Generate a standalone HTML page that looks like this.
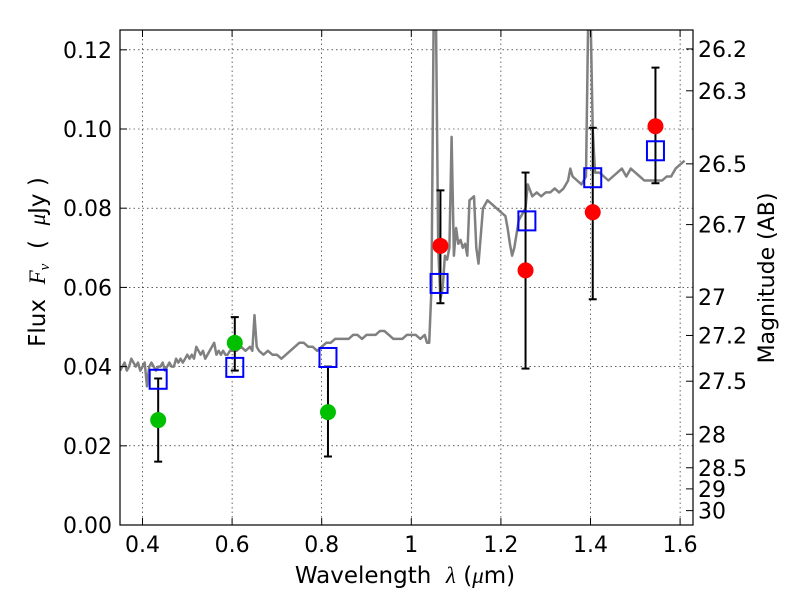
<!DOCTYPE html>
<html><head><meta charset="utf-8"><style>
body{margin:0;background:#fff}
svg text{font-family:"DejaVu Sans","Liberation Sans",sans-serif;fill:#000}
</style></head><body>
<svg id="chart" width="800" height="600" viewBox="0 0 800 600">
<defs><clipPath id="pc"><rect x="120" y="30" width="573" height="495"/></clipPath></defs>
<rect x="0" y="0" width="800" height="600" fill="#fff"/>
<g id="grid"></g>
<g id="spec" clip-path="url(#pc)"></g>
<g id="marks"></g>
<rect x="120" y="30" width="573" height="495" fill="none" stroke="#000" stroke-width="1.2"/>
<g id="axes"></g>
<text x="405" y="583" font-size="23" text-anchor="middle" xml:space="preserve">Wavelength  <tspan font-family="Liberation Serif" font-style="italic">λ</tspan> (<tspan font-family="Liberation Serif" font-style="italic">μ</tspan>m)</text>
<text transform="translate(45,262) rotate(-90)" font-size="23" text-anchor="middle" xml:space="preserve">Flux  <tspan font-family="Liberation Serif" font-style="italic">F</tspan><tspan font-family="Liberation Serif" font-style="italic" font-size="15" dy="4">ν</tspan><tspan dy="-4">  (  </tspan><tspan font-family="Liberation Serif" font-style="italic">μ</tspan>Jy )</text>
<text transform="translate(774,278) rotate(-90)" font-size="22" text-anchor="middle">Magnitude (AB)</text>
</svg>
<script>
const xTicks=[0.4,0.6,0.8,1.0,1.2,1.4,1.6];
const xTickLabels=["0.4","0.6","0.8","1","1.2","1.4","1.6"];
const yTicks=[0,0.02,0.04,0.06,0.08,0.10,0.12];
const yTickLabels=["0.00","0.02","0.04","0.06","0.08","0.10","0.12"];
const magTicks=[26.2,26.3,26.5,26.7,27,27.2,27.5,28,28.5,29,30];
const magTickLabels=["26.2","26.3","26.5","26.7","27","27.2","27.5","28","28.5","29","30"];
const specLam=[0.35,0.355,0.36,0.365,0.37,0.375,0.38,0.385,0.39,0.395,0.40,0.405,0.41,0.415,0.42,0.425,0.43,0.435,0.44,0.445,0.45,0.455,0.46,0.465,0.47,0.475,0.48,0.485,0.49,0.495,0.50,0.505,0.51,0.515,0.52,0.525,0.53,0.535,0.54,0.545,0.55,0.555,0.56,0.565,0.57,0.575,0.58,0.585,0.59,0.595,0.60,0.61,0.62,0.63,0.64,0.645,0.65,0.655,0.66,0.67,0.68,0.69,0.70,0.71,0.72,0.73,0.74,0.75,0.76,0.77,0.78,0.79,0.80,0.81,0.82,0.83,0.84,0.85,0.86,0.87,0.88,0.89,0.90,0.91,0.92,0.93,0.94,0.95,0.96,0.97,0.98,0.99,1.00,1.01,1.02,1.03,1.035,1.04,1.045,1.05,1.055,1.06,1.065,1.07,1.075,1.08,1.085,1.09,1.095,1.10,1.105,1.11,1.115,1.12,1.125,1.13,1.14,1.145,1.15,1.16,1.17,1.18,1.19,1.20,1.21,1.215,1.22,1.225,1.23,1.24,1.25,1.255,1.26,1.27,1.28,1.29,1.30,1.31,1.32,1.33,1.34,1.345,1.35,1.355,1.36,1.37,1.38,1.39,1.395,1.40,1.405,1.41,1.42,1.43,1.44,1.45,1.46,1.47,1.48,1.49,1.50,1.51,1.52,1.53,1.54,1.55,1.56,1.57,1.58,1.59,1.60,1.61,1.63];
const specFlux=[0.039,0.040,0.041,0.039,0.040,0.042,0.041,0.040,0.041,0.039,0.040,0.041,0.035,0.040,0.041,0.040,0.039,0.040,0.040,0.041,0.039,0.040,0.041,0.040,0.040,0.042,0.041,0.042,0.041,0.042,0.043,0.042,0.043,0.042,0.045,0.044,0.043,0.044,0.042,0.043,0.044,0.045,0.046,0.043,0.044,0.043,0.044,0.043,0.043,0.044,0.044,0.044,0.045,0.044,0.045,0.044,0.053,0.045,0.044,0.043,0.044,0.043,0.043,0.042,0.043,0.044,0.045,0.046,0.046,0.045,0.045,0.044,0.045,0.046,0.046,0.047,0.047,0.047,0.047,0.048,0.048,0.047,0.048,0.048,0.048,0.049,0.049,0.048,0.047,0.047,0.047,0.048,0.048,0.048,0.047,0.048,0.046,0.046,0.060,0.130,0.130,0.070,0.057,0.060,0.068,0.067,0.070,0.098,0.068,0.075,0.071,0.072,0.070,0.071,0.068,0.082,0.083,0.070,0.066,0.080,0.082,0.081,0.080,0.079,0.078,0.075,0.071,0.068,0.070,0.077,0.079,0.080,0.086,0.083,0.084,0.083,0.084,0.084,0.085,0.084,0.085,0.086,0.087,0.090,0.088,0.087,0.086,0.088,0.130,0.130,0.100,0.089,0.089,0.088,0.087,0.088,0.089,0.090,0.088,0.090,0.089,0.088,0.087,0.087,0.087,0.087,0.087,0.088,0.088,0.090,0.091,0.092];
const greenLam=[0.435,0.606,0.814];
const greenFlux=[0.0265,0.046,0.0285];
const greenLo=[0.016,0.039,0.0173];
const greenHi=[0.037,0.0525,0.040];
const redLam=[1.065,1.255,1.405,1.545];
const redFlux=[0.0705,0.0643,0.079,0.1007];
const redLo=[0.056,0.0395,0.057,0.0863];
const redHi=[0.0845,0.089,0.1003,0.1155];
const modelLam=[0.435,0.606,0.814,1.062,1.258,1.405,1.545];
const modelFlux=[0.0368,0.0398,0.0423,0.061,0.0768,0.0877,0.0945];

const NS='http://www.w3.org/2000/svg';
const X=l=>142.5+(l-0.4)*448;
const Y=f=>525-f*3960;
function mk(parent,tag,attrs){const e=document.createElementNS(NS,tag);for(const k in attrs)e.setAttribute(k,attrs[k]);document.getElementById(parent).appendChild(e);return e;}
xTicks.forEach((t,i)=>{const x=X(t);
 let g=mk('grid','line',{x1:x,x2:x,y1:30,y2:525,stroke:'#000','stroke-width':0.6,'stroke-dasharray':'1.5,3'});
 
 
 mk('axes','line',{x1:x,x2:x,y1:525,y2:518,stroke:'#000'});
 mk('axes','line',{x1:x,x2:x,y1:30,y2:37,stroke:'#000'});
 let tx=mk('axes','text',{x:x,y:552,'font-size':22,'text-anchor':'middle'});tx.textContent=xTickLabels[i];
 
 
});
yTicks.forEach((t,i)=>{const y=Y(t);
 let g=mk('grid','line',{x1:120,x2:693,y1:y,y2:y,stroke:'#000','stroke-width':0.6,'stroke-dasharray':'1.5,3'});
 
 
 mk('axes','line',{x1:120,x2:127,y1:y,y2:y,stroke:'#000'});
 let tx=mk('axes','text',{x:112,y:y+8,'font-size':22,'text-anchor':'end'});tx.textContent=yTickLabels[i];
 
 
});
magTicks.forEach((m,i)=>{const y=Y(Math.pow(10,(23.9-m)/2.5));
 mk('axes','line',{x1:686,x2:693,y1:y,y2:y,stroke:'#000'});
 let tx=mk('axes','text',{x:698,y:y+8,'font-size':22});tx.textContent=magTickLabels[i];
 
 
});
let d=specLam.map((l,i)=>(i?'L':'M')+X(l).toFixed(1)+','+Y(specFlux[i]).toFixed(1)).join('');
let sp=mk('spec','path',{d:d,fill:'none',stroke:'#808080','stroke-width':2.5,'stroke-linejoin':'round'});


function errbar(l,lo,hi){const x=X(l);
 mk('marks','line',{x1:x,x2:x,y1:Y(lo),y2:Y(hi),stroke:'#000','stroke-width':2});
 mk('marks','line',{x1:x-4,x2:x+4,y1:Y(lo),y2:Y(lo),stroke:'#000','stroke-width':2});
 mk('marks','line',{x1:x-4,x2:x+4,y1:Y(hi),y2:Y(hi),stroke:'#000','stroke-width':2});}
greenLam.forEach((l,i)=>errbar(l,greenLo[i],greenHi[i]));
redLam.forEach((l,i)=>errbar(l,redLo[i],redHi[i]));
modelLam.forEach((l,i)=>{
 let r=mk('marks','rect',{x:X(l)-8.5,y:Y(modelFlux[i])-9.5,width:17,height:19,fill:'none',stroke:'#0000ff','stroke-width':2});
 
 
});
greenLam.forEach((l,i)=>{
 let c=mk('marks','circle',{cx:X(l),cy:Y(greenFlux[i]),r:8,fill:'#00c000'});
 
 
});
redLam.forEach((l,i)=>{
 let c=mk('marks','circle',{cx:X(l),cy:Y(redFlux[i]),r:8,fill:'#ff0000'});
 
 
});
</script>
</body></html>
